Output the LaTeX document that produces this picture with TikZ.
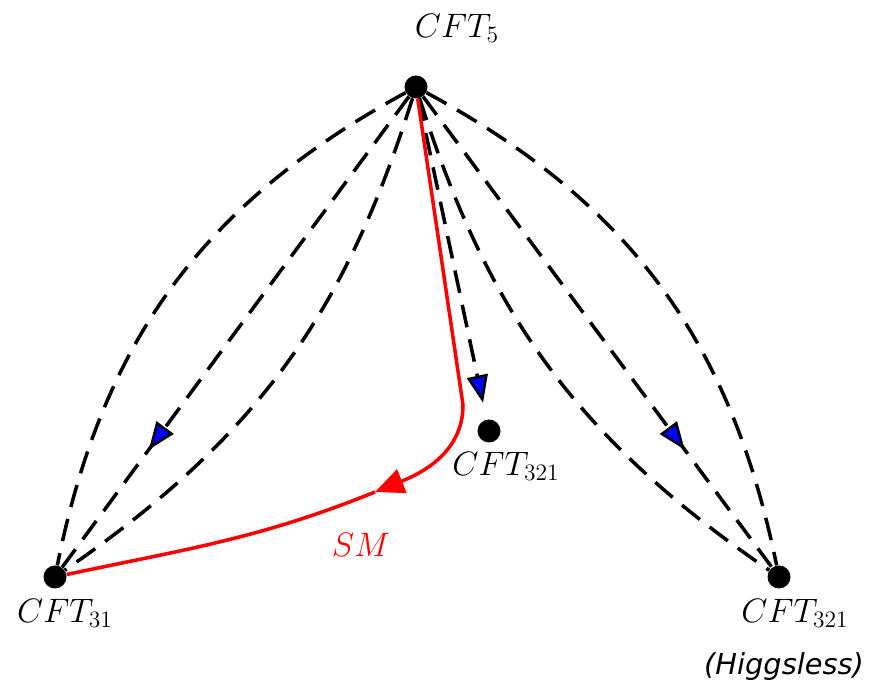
\documentclass[tikz,border=0pt]{standalone}
\usepackage{fontspec}
\newfontfamily\higgsfont{DejaVu Sans}
\usetikzlibrary{arrows.meta,decorations.markings}

\begin{document}
\begin{tikzpicture}[
		dot/.style={circle, fill=black, inner sep=0pt, minimum size=0.46cm},
		flow/.style={line width=2pt, dash pattern=on 13pt off 7pt},
		midtip/.style={decoration={markings, mark=at position #1 with {\arrow{Triangle[length=0.55cm,width=0.42cm,fill=blue,line width=1.4pt]}}}, postaction={decorate}},
		smline/.style={red, line width=2pt},
		cftlabel/.style={font=\huge, transform shape, scale=0.93}]
		\useasboundingbox (0,0) rectangle (17.54,13.66);
		%Fixed points
		\node[dot] (c5) at (8.32,11.92) {};
		\node[dot] (c31) at (1.10,2.12) {};
		\node[dot] (c321) at (9.78,5.04) {};
		\node[dot] (c321h) at (15.58,2.12) {};
		\node[cftlabel] (l5) at (9.14,13.10) {$CFT_5$};
		\node[cftlabel] (l31) at (1.30,1.40) {$CFT_{31}$};
		\node[cftlabel] (l321) at (10.12,4.34) {$CFT_{321}$};
		\node[cftlabel] (l321h) at (15.90,1.40) {$CFT_{321}$};
		\node[font=\higgsfont\itshape\fontsize{16.4}{20}\selectfont] (higgsless) at (15.68,0.32) {(Higgsless)};
		%Flows out of CFT5
		\draw[flow] (c5) to[bend right=25] (c31);
		\draw[flow, midtip=0.75] (c5) -- (c31);
		\draw[flow] (c5) to[bend left=19] (c31);
		\draw[flow] (c5) to[bend left=25] (c321h);
		\draw[flow, midtip=0.75] (c5) -- (c321h);
		\draw[flow] (c5) to[bend right=19] (c321h);
		\draw[flow, -{Triangle[length=0.55cm,width=0.42cm,fill=blue,line width=1.4pt]}, shorten >=0.34cm] (c5) -- (c321);
		%SM flow
		\coordinate (knee) at (9.26,5.56);
		\coordinate (smtip) at (7.50,3.82);
		\draw[smline, -{Triangle[length=0.58cm,width=0.5cm]}] (c5) -- (knee) to[out=-90,in=22] (smtip);
		\draw[smline] (smtip) to[out=202,in=12] (c31);
		\node[cftlabel, red] (sm) at (7.22,2.76) {$SM$};
\end{tikzpicture}
\end{document}
